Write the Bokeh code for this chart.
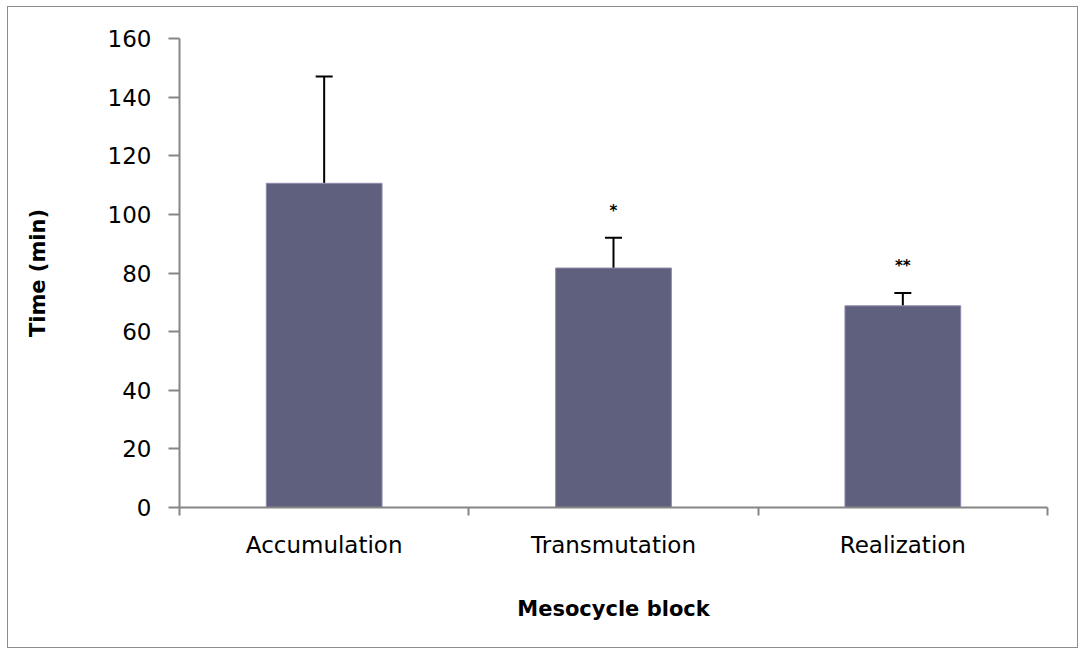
from bokeh.plotting import figure
from bokeh.models import ColumnDataSource, Range1d, FixedTicker, Whisker, TeeHead
from bokeh.embed import file_html
from bokeh.resources import INLINE

# ---- data ----
categories = ["Accumulation", "Transmutation", "Realization"]
mean_time = [110.6, 81.7, 68.8]
sd_time = [36.4, 10.3, 4.4]
significance = ["", "*", "**"]
y_ticks = [0, 20, 40, 60, 80, 100, 120, 140, 160]

xpos = [i + 0.5 for i in range(len(categories))]
upper = [m + s for m, s in zip(mean_time, sd_time)]

src = ColumnDataSource(dict(x=xpos, cat=categories, top=mean_time,
                            upper=upper, sig=significance))

W, H = 1071, 642
p = figure(width=W, height=H, output_backend="svg", toolbar_location=None,
           x_range=Range1d(0, len(categories)), y_range=Range1d(0, 160),
           min_border_left=171, min_border_right=32, min_border_top=31,
           min_border_bottom=142)
p.styles = {"border": "1px solid #8c8c8c", "margin-left": "7px", "margin-top": "6px"}
p.outline_line_color = None
p.xgrid.visible = False
p.ygrid.visible = False
p.background_fill_color = "white"
p.border_fill_color = "white"

p.vbar(x="x", top="top", bottom=0, width=0.4, source=src,
       fill_color="#5F5F7E", line_color="#8C8CAA", line_width=1)

whisk = Whisker(base="x", lower="top", upper="upper", source=src,
                line_color="black", line_width=2,
                upper_head=TeeHead(size=17, line_color="black", line_width=2),
                lower_head=None)
p.add_layout(whisk)

p.text(x="x", y="upper", text="sig", source=src, y_offset=-27,
       text_align="center", text_baseline="middle",
       text_font_size="15px", text_color="black", text_font_style="bold",
       text_font={"value": "DejaVu Sans"})

axis_color = "#868686"
font = "DejaVu Sans"

# x axis: labels at centres, tick marks at category boundaries
xa = p.xaxis[0]
xa.ticker = FixedTicker(ticks=xpos, minor_ticks=list(range(len(categories) + 1)))
xa.major_label_overrides = {x: c for x, c in zip(xpos, categories)}
xa.major_tick_line_color = None
xa.minor_tick_in = 0
xa.minor_tick_out = 8
xa.minor_tick_line_color = axis_color
xa.minor_tick_line_width = 2
xa.axis_line_color = axis_color
xa.axis_line_width = 2
xa.major_label_text_font = font
xa.major_label_text_font_size = "23px"
xa.major_label_text_color = "black"
xa.major_label_standoff = 16
xa.axis_label = "Mesocycle block"
xa.axis_label_text_font = font
xa.axis_label_text_font_style = "bold"
xa.axis_label_text_font_size = "21px"
xa.axis_label_text_color = "black"
xa.axis_label_standoff = 36

ya = p.yaxis[0]
ya.ticker = FixedTicker(ticks=y_ticks, minor_ticks=[])
ya.major_tick_in = 0
ya.major_tick_out = 11
ya.major_tick_line_color = axis_color
ya.major_tick_line_width = 2
ya.minor_tick_line_color = None
ya.axis_line_color = axis_color
ya.axis_line_width = 2
ya.major_label_text_font = font
ya.major_label_text_font_size = "23px"
ya.major_label_text_color = "black"
ya.major_label_standoff = 17
ya.axis_label = "Time (min)"
ya.axis_label_text_font = font
ya.axis_label_text_font_style = "bold"
ya.axis_label_text_font_size = "21px"
ya.axis_label_text_color = "black"
ya.axis_label_standoff = 55

open("out.html", "w").write(file_html(p, INLINE))
